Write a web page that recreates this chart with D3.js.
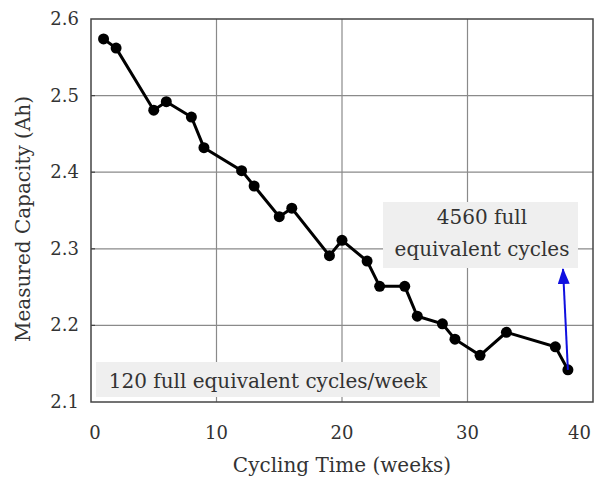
<!DOCTYPE html>
<html>
<head>
<meta charset="utf-8">
<script src="https://cdn.jsdelivr.net/npm/d3@7"></script>
<style>
body { margin: 0; background: #fff; }
text { font-family: "DejaVu Serif", "Liberation Serif", serif; fill: #333; }
</style>
</head>
<body>
<script>
// capacity fade data
var weeks = [1, 2, 5, 6, 8, 9, 12, 13, 15, 16, 19, 20, 22, 23, 25, 26, 28, 29, 31, 33.1, 37, 38];
var capacity = [2.574, 2.562, 2.481, 2.492, 2.472, 2.432, 2.402, 2.382, 2.342, 2.353, 2.291, 2.311, 2.284, 2.251, 2.251, 2.212, 2.202, 2.182, 2.161, 2.191, 2.172, 2.142];
var xTicks = [0, 10, 20, 30, 40];
var yTicks = [2.1, 2.2, 2.3, 2.4, 2.5, 2.6];

var width = 595, height = 481;
var margin = {left: 91, right: 2, top: 19, bottom: 79};

var svg = d3.select("body").append("svg")
    .attr("width", width)
    .attr("height", height);

var x = d3.scaleLinear().domain([0, 40]).range([margin.left, width - margin.right]);
var y = d3.scaleLinear().domain([2.1, 2.6]).range([height - margin.bottom, margin.top]);

// grid
svg.append("g").selectAll("line")
    .data(xTicks.slice(1, -1))
    .enter().append("line")
    .attr("x1", d => x(d)).attr("x2", d => x(d))
    .attr("y1", y(2.6)).attr("y2", y(2.1))
    .attr("stroke", "#8a8a8a").attr("stroke-width", 1.2);
svg.append("g").selectAll("line")
    .data(yTicks.slice(1, -1))
    .enter().append("line")
    .attr("x1", x(0)).attr("x2", x(40))
    .attr("y1", d => y(d)).attr("y2", d => y(d))
    .attr("stroke", "#8a8a8a").attr("stroke-width", 1.2);

// frame
svg.append("rect")
    .attr("x", x(0)).attr("y", y(2.6))
    .attr("width", x(40) - x(0)).attr("height", y(2.1) - y(2.6))
    .attr("fill", "none").attr("stroke", "#444").attr("stroke-width", 1.5);

// tick labels
svg.append("g").selectAll("text")
    .data(yTicks)
    .enter().append("text")
    .attr("x", x(0) - 12).attr("y", d => y(d) + 6)
    .attr("text-anchor", "end")
    .style("font-size", "18px")
    .text(d => d.toFixed(1));
svg.append("g").selectAll("text")
    .data(xTicks)
    .enter().append("text")
    .attr("x", d => d === 40 ? x(d) - 2 : x(d) + (d === 0 ? 4 : 0))
    .attr("y", y(2.1) + 37)
    .attr("text-anchor", d => d === 40 ? "end" : "middle")
    .style("font-size", "18px")
    .text(d => d);

// axis titles
svg.append("text")
    .attr("x", 342).attr("y", 472)
    .attr("text-anchor", "middle")
    .style("font-size", "20px")
    .text("Cycling Time (weeks)");
svg.append("text")
    .attr("transform", "translate(30,219) rotate(-90)")
    .attr("text-anchor", "middle")
    .style("font-size", "20px")
    .text("Measured Capacity (Ah)");

// annotation boxes
svg.append("rect")
    .attr("x", 96).attr("y", 362).attr("width", 344).attr("height", 35)
    .attr("fill", "#efefef");
svg.append("text")
    .attr("x", 268).attr("y", 388)
    .attr("text-anchor", "middle")
    .style("font-size", "20px")
    .text("120 full equivalent cycles/week");

svg.append("rect")
    .attr("x", 383).attr("y", 202).attr("width", 195).attr("height", 66)
    .attr("fill", "#efefef");
svg.append("text")
    .attr("x", 482).attr("y", 224)
    .attr("text-anchor", "middle")
    .style("font-size", "20px")
    .text("4560 full");
svg.append("text")
    .attr("x", 482).attr("y", 256)
    .attr("text-anchor", "middle")
    .style("font-size", "20px")
    .text("equivalent cycles");

// small inward ticks
svg.append("g").selectAll("line")
    .data(yTicks.slice(1, -1))
    .enter().append("line")
    .attr("x1", x(0)).attr("x2", x(0) + 4)
    .attr("y1", d => y(d)).attr("y2", d => y(d))
    .attr("stroke", "#444").attr("stroke-width", 1.2);

// data line + markers
var data = weeks.map((w, i) => ({w: w, c: capacity[i]}));
var line = d3.line().x(d => x(d.w)).y(d => y(d.c));
svg.append("path")
    .datum(data)
    .attr("d", line)
    .attr("fill", "none")
    .attr("stroke", "#000")
    .attr("stroke-width", 3);
svg.append("g").selectAll("circle")
    .data(data)
    .enter().append("circle")
    .attr("cx", d => x(d.w)).attr("cy", d => y(d.c))
    .attr("r", 5.5)
    .attr("fill", "#000");

// blue arrow from last point to the label
var last = data[data.length - 1];
var tipX = 563, tipY = 269;
svg.append("defs").append("marker")
    .attr("id", "head")
    .attr("viewBox", "0 0 16 12")
    .attr("refX", 15).attr("refY", 6)
    .attr("markerWidth", 8).attr("markerHeight", 6)
    .attr("orient", "auto")
    .append("path").attr("d", "M0,0 L16,6 L0,12 z").attr("fill", "#1010e0");
svg.append("line")
    .attr("x1", x(last.w)).attr("y1", y(last.c))
    .attr("x2", tipX).attr("y2", tipY)
    .attr("stroke", "#1010e0").attr("stroke-width", 2)
    .attr("marker-end", "url(#head)");
</script>
</body>
</html>
